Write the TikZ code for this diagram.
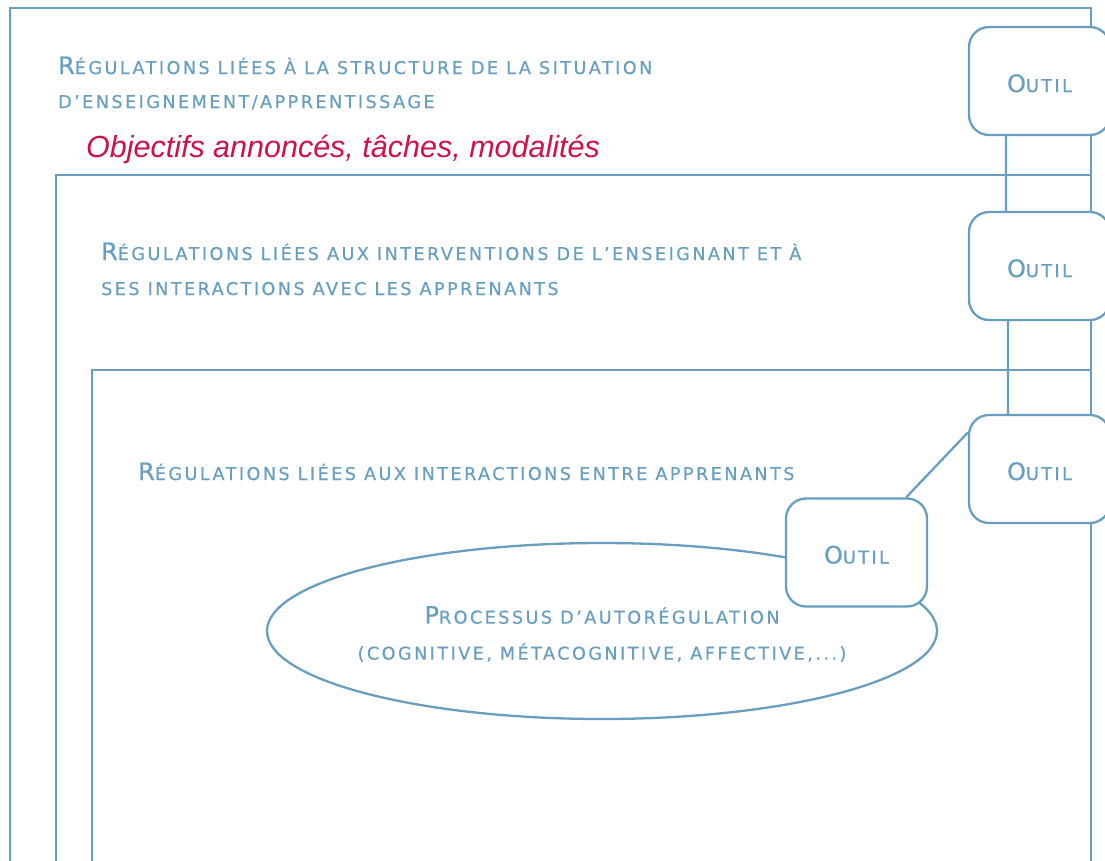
\documentclass[tikz,border=0pt]{standalone}
\usepackage{fontspec}
\setmainfont[LetterSpace=14, FakeBold=0.6]{DejaVu Sans}
\newfontfamily\arialfont{Liberation Sans}
\usetikzlibrary{shapes.geometric, positioning, calc}
\definecolor{bleu}{RGB}{104,158,192}
\definecolor{rouge}{RGB}{208,16,76}
\newcommand{\pc}[1]{{\fontsize{17.6}{20}\selectfont\MakeUppercase{#1}}}

\begin{document}
\begin{tikzpicture}[x=1pt, y=-1pt, line width=2.3pt, draw=bleu,
    cadre/.style={draw=bleu},
    outil/.style={draw=bleu, fill=white, rounded corners=20pt, minimum width=141pt, minimum height=108pt, inner sep=0pt, text height=22pt, text depth=0pt, text=bleu, font=\fontsize{24}{30}\selectfont},
    titre/.style={anchor=base west, inner sep=0pt, text=bleu, align=left, font=\fontsize{24}{34}\selectfont},
    processus/.style={ellipse, draw=bleu, minimum width=670pt, minimum height=176pt, inner sep=0pt}]
                        \useasboundingbox (0,0) rectangle (1105,860);
                        \clip (0,0) rectangle (1105,860);

                        \draw[cadre] (10,8) rectangle (1091,900);
                        \draw[cadre] (56,175) rectangle (1091,900);
                        \draw[cadre] (92,370) rectangle (1091,900);

                        \node[titre] (structure) at (57,108) {R\pc{égulations liées à la structure de la situation}\\\pc{d’enseignement/apprentissage}};
                        \node[anchor=base west, inner sep=0pt, text=rouge, font=\arialfont\itshape\fontsize{30.5}{34}\selectfont] (objectifs) at (85,157) {Objectifs annoncés, tâches, modalités};
                        \node[titre, font=\fontsize{24}{35}\selectfont] (enseignant) at (100,295) {R\pc{égulations liées aux interventions de l’enseignant et à}\\\pc{ses interactions avec les apprenants}};
                        \node[titre] (apprenants) at (137,480) {R\pc{égulations liées aux interactions entre apprenants}};

                        \node[processus] (auto) at (602,631) {};
                        \node[text=bleu, align=center, inner sep=0pt, font=\fontsize{24}{36}\selectfont] (autotexte) at (602,634) {P\pc{rocessus d’autorégulation}\\\pc{(cognitive, métacognitive, affective,...)}};

                        \node[outil] (outilA) at (1039.5,81) {O\pc{util}};
                        \node[outil] (outilB) at (1039.5,266) {O\pc{util}};
                        \node[outil] (outilC) at (1039.5,469) {O\pc{util}};
                        \node[outil] (outilD) at (856.5,552.5) {O\pc{util}};

                        \draw
                        ([xshift=-33.5pt]outilA.south) -- ([xshift=-33.5pt]outilB.north)
                        ([xshift=-31.5pt]outilB.south) -- ([xshift=-31.5pt]outilC.north)
                        (outilC.153) -- (outilD.48);
                    \end{tikzpicture}
\end{document}
